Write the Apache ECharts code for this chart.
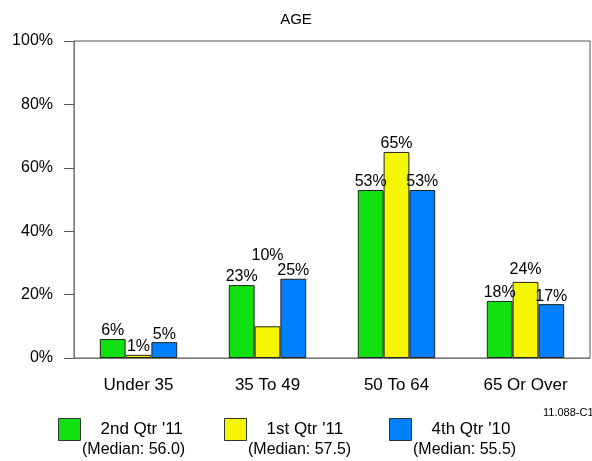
<!DOCTYPE html>
<html>
<head>
<meta charset="utf-8">
<script src="https://cdn.jsdelivr.net/npm/echarts@6/dist/echarts.min.js"></script>
<style>
  html, body { margin: 0; padding: 0; background: #fff; }
  #chart { width: 592px; height: 461px; }
</style>
</head>
<body>
<div id="chart"></div>
<script>
const categories = ['Under 35', '35 To 49', '50 To 64', '65 Or Over']
const seriesNames = ["2nd Qtr '11", "1st Qtr '11", "4th Qtr '10"]
const q2_11 = [6, 23, 53, 18]
const q1_11 = [1, 10, 65, 24]
const q4_10 = [5, 25, 53, 17]
const medians = ['(Median: 56.0)', '(Median: 57.5)', '(Median: 55.5)']
const yTicks = [0, 20, 40, 60, 80, 100]

const colors = ['#11e011', '#f5f500', '#0080ff']
const font = 'Arial, "Liberation Sans", sans-serif'

const chart = echarts.init(document.getElementById('chart'), null, { renderer: 'canvas' })

// the reference lifts the 10% label well above its bar
const labelOffsets = { '1-1': [0, -63], '1-3': [0, -4] }

function makeSeries(name, values, si) {
  return {
    name, type: 'bar',
    barGap: 0, barCategoryGap: '40%',
    data: values.map((v, i) => {
      const off = labelOffsets[si + '-' + i]
      return off ? { value: v, label: { offset: off } } : v
    }),
    itemStyle: { color: colors[si], borderColor: '#222', borderWidth: 1 },
    label: {
      show: true, position: 'top', distance: 0,
      formatter: '{c}%', color: '#000', fontFamily: font, fontSize: 16
    }
  }
}

const legendLefts = [53, 219, 384]

const option = {
  backgroundColor: '#fff',
  animation: false,
  title: {
    text: 'AGE', left: 'center', top: 7,
    textStyle: { fontFamily: font, fontSize: 15, fontWeight: 'normal', color: '#000' }
  },
  grid: {
    left: 74, right: 2, top: 41, bottom: 103,
    show: true, borderColor: '#555', borderWidth: 1
  },
  legend: seriesNames.map((n, i) => ({
    data: [n], left: legendLefts[i], top: 413,
    itemWidth: 22, itemHeight: 22, icon: 'rect',
    itemStyle: { borderColor: '#333', borderWidth: 1 },
    textStyle: { fontFamily: font, fontSize: 17, color: '#000', padding: [0, 0, 0, 15] },
    selectedMode: false
  })),
  graphic: medians.map((m, i) => ({
    type: 'text', left: legendLefts[i] + 29, top: 442,
    style: { text: m, font: '16px ' + font, fill: '#000' }
  })).concat([{
    type: 'text', left: 543, top: 407,
    style: { text: '11.088-C1', font: '11px ' + font, fill: '#000' }
  }]),
  xAxis: {
    type: 'category', data: categories,
    axisLine: { lineStyle: { color: '#777' } },
    axisTick: { alignWithLabel: true, length: 10, lineStyle: { color: '#000' } },
    axisLabel: { fontFamily: font, fontSize: 17, color: '#000', margin: 19 }
  },
  yAxis: {
    type: 'value', min: yTicks[0], max: yTicks[yTicks.length - 1], interval: 20,
    axisLine: { show: true, lineStyle: { color: '#777' } },
    axisTick: { show: true, length: 10, lineStyle: { color: '#555' } },
    axisLabel: { fontFamily: font, fontSize: 16, color: '#000', margin: 21, formatter: '{value}%' },
    splitLine: { show: false }
  },
  series: [
    makeSeries(seriesNames[0], q2_11, 0),
    makeSeries(seriesNames[1], q1_11, 1),
    makeSeries(seriesNames[2], q4_10, 2)
  ]
}

chart.setOption(option)
</script>
</body>
</html>
